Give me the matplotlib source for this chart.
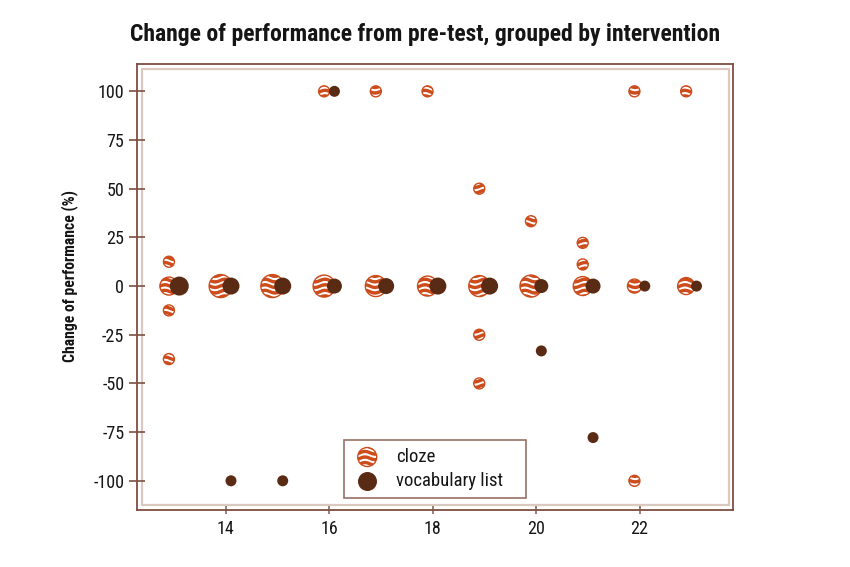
import os
import warnings
import matplotlib
matplotlib.use("Agg")
import matplotlib.pyplot as plt
from matplotlib import font_manager as fm
import matplotlib.hatch as mhatch
from matplotlib.path import Path
from matplotlib.patches import Rectangle
import numpy as np

warnings.filterwarnings("ignore")

# ---------------- data ----------------
x_cloze = [13, 13, 13, 13, 14, 15, 16, 16, 17, 17, 18, 18, 19, 19, 19, 19,
           20, 20, 21, 21, 21, 22, 22, 22, 23, 23]
y_cloze = [12.5, 0, -12.5, -37.5, 0, 0, 100, 0, 100, 0, 100, 0, 50, 0, -25, -50,
           33.3, 0, 22.2, 11.1, 0, 100, 0, -100, 100, 0]
n_cloze = [1, 8, 1, 1, 13, 13, 1, 12, 1, 11, 1, 10, 1, 11, 1, 1,
           1, 12, 1, 1, 9, 1, 4, 1, 1, 7]

x_vocab = [13, 14, 14, 15, 15, 16, 16, 17, 18, 19, 20, 20, 21, 21, 22, 23]
y_vocab = [0, 0, -100, 0, -100, 100, 0, 0, 0, 0, 0, -33.3, 0, -77.8, 0, 0]
n_vocab = [9, 7, 1, 7, 1, 1, 5, 6, 7, 7, 4, 1, 5, 1, 1, 1]

series_labels = ["cloze", "vocabulary list"]
x_ticks = [14, 16, 18, 20, 22]
y_ticks = [-100, -75, -50, -25, 0, 25, 50, 75, 100]
title = "Change of performance from pre-test, grouped by intervention"
ylabel = "Change of performance (%)"

# ---------------- fonts ----------------
COND = ("condensed", "semi-condensed", "extra-condensed", "ultra-condensed")
cands = {}
for f in fm.fontManager.ttflist:
    low = (f.name + " " + os.path.basename(f.fname)).lower()
    if str(f.stretch) in COND or "condensed" in low or "narrow" in low:
        cands.setdefault(f.name, []).append(f)
pref = ["Roboto Condensed", "Roboto", "Noto Sans Condensed", "Noto Sans",
        "Open Sans Condensed", "Open Sans", "Liberation Sans Narrow",
        "DejaVu Sans Condensed", "DejaVu Sans"]
family = None
for p in pref:
    if p in cands:
        family = p
        break
if family is None:
    family = next(iter(cands)) if cands else "DejaVu Sans"
plt.rcParams["font.family"] = [family, "DejaVu Sans"]
plt.rcParams["font.stretch"] = "condensed"
plt.rcParams["axes.unicode_minus"] = False


# ---------------- wavy hatch ----------------
class WaveHatch(mhatch.HatchPatternBase):
    NPTS = 41

    def __init__(self, hatch, density):
        self.num_lines = int(hatch.count("~") * density)
        self.num_vertices = self.num_lines * self.NPTS

    def set_vertices_and_codes(self, vertices, codes):
        n = self.num_lines
        t = np.linspace(0.0, 1.0, self.NPTS)
        for i in range(n):
            y0 = (i + 0.5) / n
            seg = slice(i * self.NPTS, (i + 1) * self.NPTS)
            vertices[seg, 0] = t
            vertices[seg, 1] = y0 + 0.014 * np.sin(2 * np.pi * 5 * t)
            codes[seg] = Path.LINETO
            codes[i * self.NPTS] = Path.MOVETO


HATCH = "---"
try:
    if WaveHatch not in mhatch._hatch_types:
        mhatch._hatch_types.append(WaveHatch)
    _p = mhatch.get_path("~~~", 6)
    if len(_p.vertices) > 0:
        HATCH = "~~~"
except Exception:
    HATCH = "---"

ORANGE = "#cc4c1c"
BROWN = "#5a2b14"
SPINE = "#7e4e40"
INNER = "#dbc9c0"
TEXT = "#151515"
plt.rcParams["hatch.color"] = ORANGE
plt.rcParams["hatch.linewidth"] = 2.4

DODGE = 0.1


def size_of(n):
    d_px = 10 + np.asarray(n, dtype=float)
    return (d_px * 0.72) ** 2


fig = plt.figure(figsize=(8.5, 5.67), dpi=100)
ax = fig.add_axes([0.161, 0.1005, 0.701, 0.7865])

ax.scatter(np.array(x_cloze) - DODGE, y_cloze, s=size_of(n_cloze),
           facecolor="white", edgecolor=ORANGE, hatch=HATCH, linewidths=1.0,
           zorder=3, label=series_labels[0])
ax.scatter(np.array(x_vocab) + DODGE, y_vocab, s=size_of(n_vocab),
           color=BROWN, linewidths=0, zorder=4, label=series_labels[1])

ax.set_xlim(12.28, 23.80)
ax.set_ylim(-115, 114)
ax.set_xticks(x_ticks)
ax.set_yticks(y_ticks)

for side in ["left", "bottom", "top", "right"]:
    ax.spines[side].set_color(SPINE)
    ax.spines[side].set_linewidth(1.3)

ax.add_patch(Rectangle((0.0084, 0.0112), 0.9846, 0.978, transform=ax.transAxes,
                       fill=False, edgecolor=INNER, linewidth=1.6, zorder=1))

ax.tick_params(axis="y", direction="inout", length=11, width=1.2, color=SPINE,
               pad=3.5, labelsize=13, labelcolor=TEXT)
ax.tick_params(axis="x", direction="inout", length=6, width=1.2, color="#8a6a60",
               pad=4, labelsize=13, labelcolor=TEXT)

ax.set_ylabel(ylabel, fontsize=11.3, fontweight="bold", color=TEXT)
ax.yaxis.set_label_coords(-0.098, 0.525)
fig.text(0.5, 0.94, title, ha="center", va="center", fontsize=17,
         fontweight="bold", color=TEXT)

h_c = ax.scatter([], [], s=(19 * 0.72) ** 2, facecolor="white", edgecolor=ORANGE,
                 hatch=HATCH, linewidths=1.0)
h_v = ax.scatter([], [], s=(19 * 0.72) ** 2, color=BROWN, linewidths=0)
leg = ax.legend([h_c, h_v], series_labels, loc="lower left",
                bbox_to_anchor=(0.3473, 0.0269, 0.3054, 0.12), mode="expand",
                fontsize=13.5, frameon=True,
                fancybox=False, edgecolor=SPINE, handletextpad=0.75,
                borderpad=0.45, labelspacing=0.3, borderaxespad=0,
                handlelength=1.6, scatterpoints=1, labelcolor=TEXT)
leg.get_frame().set_linewidth(1.2)

fig.savefig("out.png", dpi=100, facecolor="white")
